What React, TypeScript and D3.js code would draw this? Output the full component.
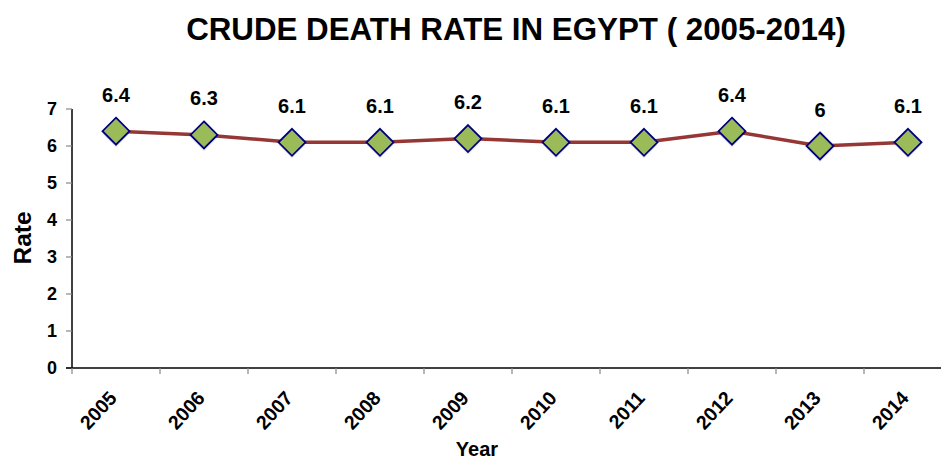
import React from "react";
import * as d3 from "d3";

const years = ["2005", "2006", "2007", "2008", "2009", "2010", "2011", "2012", "2013", "2014"];
const rates = [6.4, 6.3, 6.1, 6.1, 6.2, 6.1, 6.1, 6.4, 6, 6.1];
const yTicks = [0, 1, 2, 3, 4, 5, 6, 7];
const title = "CRUDE DEATH RATE IN EGYPT ( 2005-2014)";

const W = 941, H = 461;
const left = 72, bottom = 368, top = 109;
const band = 88;

export default function App() {
  const x = d3.scaleBand<string>().domain(years).range([left, left + band * years.length]).padding(0);
  const y = d3.scaleLinear().domain([0, 7]).range([bottom, top]);
  const cx = (d: string) => (x(d) as number) + x.bandwidth() / 2;
  const line = d3.line<number>().x((_, i) => cx(years[i])).y((v) => y(v));
  const font = "Arial, 'Liberation Sans', sans-serif";
  const ds = 13.5;
  return (
    <svg width={W} height={H} style={{ position: "absolute", left: 0, top: 0, background: "#fff" }} fontFamily={font}>
      <text x={516} y={40} textAnchor="middle" fontSize={31.3} fontWeight="bold">{title}</text>
      {/* y axis */}
      <line x1={left} x2={left} y1={top} y2={bottom} stroke="#000" strokeWidth={1.5} />
      {yTicks.map((t) => (
        <g key={t}>
          <line x1={left - 6} x2={left} y1={y(t)} y2={y(t)} stroke="#888" strokeWidth={1.2} />
          <text x={57} y={y(t)} dy="0.36em" textAnchor="end" fontSize={18} fontWeight="bold">{t}</text>
        </g>
      ))}
      <text transform={`translate(31,238) rotate(-90)`} textAnchor="middle" fontSize={24.5} fontWeight="bold">Rate</text>
      {/* x axis */}
      <line x1={left - 6} x2={W} y1={bottom} y2={bottom} stroke="#000" strokeWidth={1.5} />
      {years.map((yr, i) => (
        <line key={"t" + i} x1={(x(yr) as number)} x2={(x(yr) as number)} y1={bottom} y2={bottom + 6} stroke="#888" strokeWidth={1.2} />
      ))}
      {years.map((yr) => (
        <text key={"l" + yr} transform={`translate(${cx(yr) + 2},${bottom + 31}) rotate(-47)`} textAnchor="end" fontSize={19.5} fontWeight="bold">{yr}</text>
      ))}
      <text x={477} y={456} textAnchor="middle" fontSize={20} fontWeight="bold">Year</text>
      {/* line */}
      <path d={line(rates) || ""} fill="none" stroke="#953735" strokeWidth={3.5} strokeLinejoin="round" />
      {rates.map((v, i) => {
        const px = cx(years[i]), py = y(v);
        return (
          <g key={"p" + i}>
            <path d={`M${px},${py - ds + 3}L${px + ds},${py + 3}L${px},${py + ds + 3}L${px - ds},${py + 3}Z`} fill="#000" opacity={0.07} />
            <path d={`M${px},${py - ds}L${px + ds},${py}L${px},${py + ds}L${px - ds},${py}Z`} fill="#9BBB59" stroke="#000080" strokeWidth={1.8} />
            <text x={px} y={py - 29.5} textAnchor="middle" fontSize={20} fontWeight="bold">{String(v)}</text>
          </g>
        );
      })}
    </svg>
  );
}
